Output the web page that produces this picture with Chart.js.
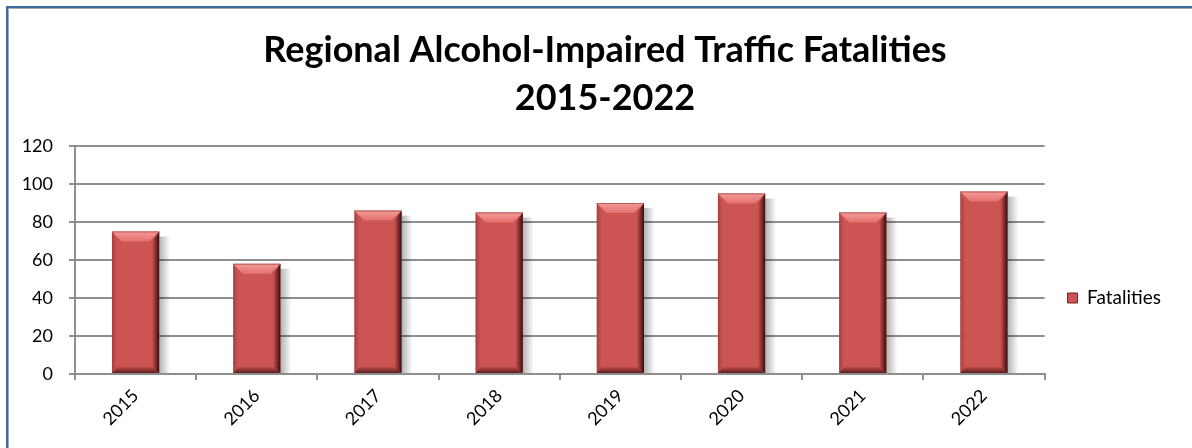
<!DOCTYPE html>
<html>
<head>
<meta charset="utf-8">
<script src="https://cdn.jsdelivr.net/npm/chart.js@4.4.1/dist/chart.umd.min.js"></script>
<style>
html,body{margin:0;padding:0;background:#fff;overflow:hidden;width:1192px;height:448px}
#wrap{position:absolute;left:0;top:0;width:1192px;height:448px}
canvas{position:absolute;left:0;top:0}
#frame{position:absolute;left:6px;top:6px;width:1400px;height:700px;border-left:2px solid #3b6e9e;border-top:2px solid #3b6e9e;pointer-events:none}
#frame2{position:absolute;left:0;top:0;width:100%;height:100%;border-left:1.5px solid #a9a9a9;border-top:1.5px solid #a9a9a9}
</style>
</head>
<body>
<div id="wrap">
<canvas id="c" width="1192" height="448"></canvas>
<div id="frame"><div id="frame2"></div></div>
</div>
<script>
// ---- data ----
const categories = ['2015', '2016', '2017', '2018', '2019', '2020', '2021', '2022'];
const fatalities = [75, 58, 86, 85, 90, 95, 85, 96];
const yMin = 0;
const yMax = 120;
const yStep = 20;
const titleLines = ['Regional Alcohol-Impaired Traffic Fatalities', '2015-2022'];
const seriesName = 'Fatalities';

// ---- styles ----
const FONT = 'Lato, "Noto Sans", sans-serif';
const GRID = '#8e8e8e';
const BAR = '#cc5553';

function barRects(chart) {
  const meta = chart.getDatasetMeta(0);
  return meta.data.map(el => {
    const p = el.getProps(['x', 'y', 'base', 'width'], true);
    return { L: p.x - p.width / 2, R: p.x + p.width / 2, T: Math.min(p.y, p.base), B: Math.max(p.y, p.base) };
  });
}

// shift the title's centre a little to the right, as in the original
const titleShift = {
  id: 'titleShift',
  afterLayout(chart) {
    if (chart.titleBlock) chart.titleBlock.left += 21;
  }
};

const bevelPlugin = {
  id: 'bevel',
  beforeDatasetsDraw(chart) {
    const ctx = chart.ctx;
    ctx.save();
    barRects(chart).forEach(r => {
      const g = ctx.createLinearGradient(r.R, 0, r.R + 11, 0);
      g.addColorStop(0, 'rgba(0,0,0,0.30)');
      g.addColorStop(1, 'rgba(0,0,0,0)');
      ctx.fillStyle = g;
      ctx.fillRect(r.R, r.T + 5, 11, r.B - r.T - 5);
    });
    ctx.restore();
  },
  afterDatasetsDraw(chart) {
    const ctx = chart.ctx;
    ctx.save();
    barRects(chart).forEach(r => {
      const { L, R, T, B } = r;
      const tb = 10, sw = 7, bb = 6;
      let g = ctx.createLinearGradient(L, 0, L + 5, 0);
      g.addColorStop(0, 'rgba(90,25,25,0.35)');
      g.addColorStop(1, 'rgba(90,25,25,0)');
      ctx.fillStyle = g;
      ctx.beginPath();
      ctx.moveTo(L, T); ctx.lineTo(L + 5, T + tb); ctx.lineTo(L + 5, B - bb); ctx.lineTo(L, B); ctx.closePath(); ctx.fill();
      g = ctx.createLinearGradient(R - sw, 0, R, 0);
      g.addColorStop(0, 'rgba(110,30,30,0.1)');
      g.addColorStop(0.5, 'rgba(80,20,20,0.6)');
      g.addColorStop(1, 'rgba(40,8,8,0.95)');
      ctx.fillStyle = g;
      ctx.beginPath();
      ctx.moveTo(R, T); ctx.lineTo(R, B); ctx.lineTo(R - sw, B - bb); ctx.lineTo(R - sw, T + tb); ctx.closePath(); ctx.fill();
      g = ctx.createLinearGradient(0, B - bb, 0, B);
      g.addColorStop(0, 'rgba(90,25,25,0.15)');
      g.addColorStop(1, 'rgba(70,18,18,0.85)');
      ctx.fillStyle = g;
      ctx.beginPath();
      ctx.moveTo(L, B); ctx.lineTo(R, B); ctx.lineTo(R - sw, B - bb); ctx.lineTo(L + 5, B - bb); ctx.closePath(); ctx.fill();
      g = ctx.createLinearGradient(0, T, 0, T + tb);
      g.addColorStop(0, '#f59a97');
      g.addColorStop(1, '#e3716f');
      ctx.fillStyle = g;
      ctx.beginPath();
      ctx.moveTo(L, T); ctx.lineTo(R, T); ctx.lineTo(R - tb, T + tb); ctx.lineTo(L + tb, T + tb); ctx.closePath(); ctx.fill();
      ctx.strokeStyle = 'rgba(120,40,40,0.5)';
      ctx.lineWidth = 1;
      ctx.beginPath(); ctx.moveTo(L, T + 0.5); ctx.lineTo(R, T + 0.5); ctx.stroke();
    });
    ctx.restore();
  }
};

new Chart(document.getElementById('c'), {
  type: 'bar',
  data: {
    labels: categories,
    datasets: [{
      label: seriesName,
      data: fatalities,
      backgroundColor: BAR,
      borderWidth: 0,
      barPercentage: 0.78,
      categoryPercentage: 0.5
    }]
  },
  plugins: [bevelPlugin, titleShift],
  options: {
    responsive: false,
    animation: false,
    devicePixelRatio: 1,
    layout: { padding: { left: 18, right: 21, top: 0, bottom: 0 } },
    plugins: {
      title: {
        display: true,
        text: titleLines,
        color: '#000',
        font: { family: FONT, size: 36, weight: 'bold', lineHeight: 1.333 },
        padding: { top: 26, bottom: 24 }
      },
      legend: {
        display: true,
        position: 'right',
        title: { display: true, text: ' ', font: { family: FONT, size: 12, lineHeight: 1.2 }, padding: { top: 133.6, bottom: 0 } },
        labels: {
          boxWidth: 10,
          boxHeight: 10,
          padding: 23,
          color: '#000',
          font: { family: FONT, size: 19 },
          generateLabels: () => [{
            text: seriesName, fillStyle: BAR, strokeStyle: '#6e2624', lineWidth: 1,
            hidden: false, datasetIndex: 0, fontColor: '#000'
          }]
        }
      },
      tooltip: { enabled: false }
    },
    scales: {
      x: {
        type: 'category',
        offset: true,
        grid: { display: true, drawOnChartArea: false, drawTicks: true, tickLength: 6, color: GRID, lineWidth: 2, offset: true },
        border: { display: true, color: GRID, width: 2 },
        ticks: { minRotation: 45, maxRotation: 45, color: '#000', font: { family: FONT, size: 18 }, padding: 5 },
        afterFit(s) { s.height = 74; }
      },
      y: {
        min: yMin,
        max: yMax,
        grid: { display: true, color: GRID, lineWidth: 2, drawTicks: true, tickLength: 6 },
        border: { display: true, color: GRID, width: 2 },
        ticks: { stepSize: yStep, color: '#000', font: { family: FONT, size: 18 }, padding: 16 },
        afterFit(s) { s.width = 57; }
      }
    }
  }
});
</script>
</body>
</html>
